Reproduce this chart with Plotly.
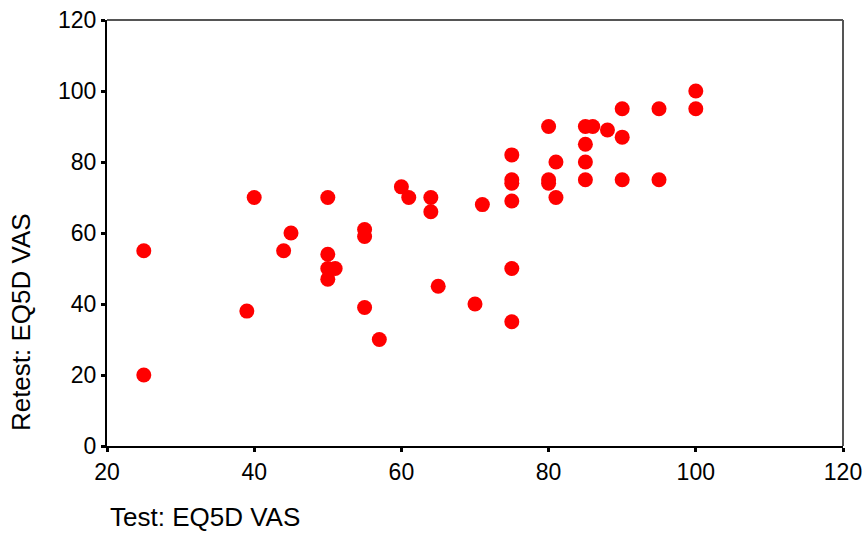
import plotly.graph_objects as go

# Test and retest EQ5D VAS scores per participant
test = [25, 25, 39, 40, 44, 45, 50, 50, 50, 51, 50, 55, 55, 55, 57,
        60, 61, 64, 64, 65, 70, 71, 75, 75, 75, 75, 75, 75,
        80, 80, 80, 81, 81, 85, 86, 85, 85, 85, 88,
        90, 90, 90, 95, 95, 100, 100]
retest = [55, 20, 38, 70, 55, 60, 70, 54, 50, 50, 47, 61, 59, 39, 30,
          73, 70, 70, 66, 45, 40, 68, 82, 75, 74, 69, 50, 35,
          90, 75, 74, 80, 70, 90, 90, 85, 80, 75, 89,
          95, 87, 75, 95, 75, 100, 95]

x_ticks = [20, 40, 60, 80, 100, 120]
y_ticks = [0, 20, 40, 60, 80, 100, 120]

FONT = "Liberation Sans, Arial, sans-serif"

fig = go.Figure(
    go.Scatter(
        x=test, y=retest, mode="markers",
        marker=dict(size=15, color="#ff0000", line=dict(width=0)),
        hoverinfo="x+y",
    )
)

axis_common = dict(
    showgrid=False, zeroline=False,
    showline=True, linecolor="black", linewidth=2,
    ticks="outside", ticklen=4, tickwidth=3, tickcolor="black",
    tickfont=dict(family=FONT, size=23, color="black"),
)

fig.update_xaxes(range=[20, 120], tickvals=x_ticks, ticklabelstandoff=0, **axis_common)
fig.update_yaxes(range=[0, 120], tickvals=y_ticks, ticklabelstandoff=0, **axis_common)

# grey frame on the top and right edges
fig.add_shape(type="line", xref="paper", yref="paper", x0=0, x1=1, y0=1, y1=1,
              line=dict(color="#555555", width=2))
fig.add_shape(type="line", xref="paper", yref="paper", x0=1, x1=1, y0=0, y1=1,
              line=dict(color="#555555", width=2))

# axis titles anchored at the start of each axis
fig.add_annotation(text="Test: EQ5D VAS", xref="paper", yref="paper",
                   x=0.0014, y=-0.2066, xanchor="left", yanchor="bottom",
                   showarrow=False, font=dict(family=FONT, size=26, color="black"))
fig.add_annotation(text="Retest: EQ5D VAS", xref="paper", yref="paper",
                   x=-0.117, y=0.03, xanchor="center", yanchor="bottom",
                   textangle=-90, showarrow=False,
                   font=dict(family=FONT, size=26, color="black"))

fig.update_layout(
    width=866, height=535,
    margin=dict(l=107, r=23, t=20, b=89, autoexpand=False),
    paper_bgcolor="white", plot_bgcolor="white",
    showlegend=False,
)

fig.write_html("out.html")
